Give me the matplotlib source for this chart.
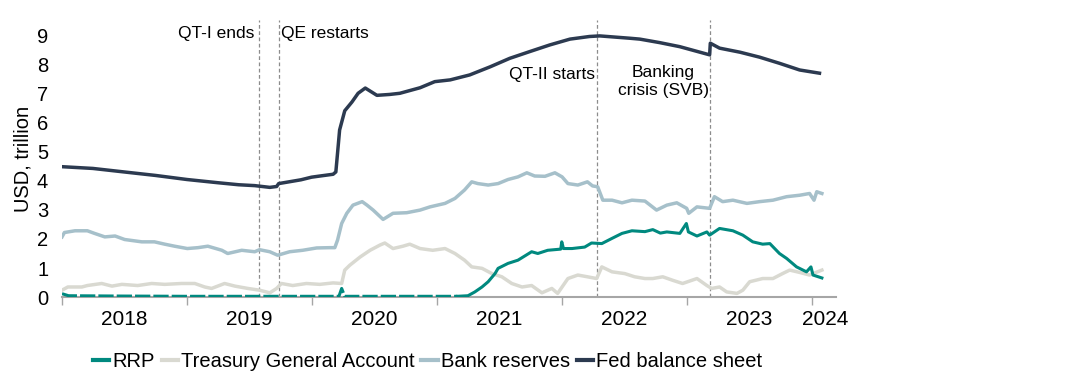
import numpy as np
import pandas as pd
import matplotlib
matplotlib.use('Agg')
import matplotlib.pyplot as plt
import matplotlib.dates as mdates

plt.rcParams['font.family'] = ['Liberation Sans', 'DejaVu Sans']

# USD trillion
fed_dates = ['2018-01-01', '2018-04-01', '2018-07-01', '2018-10-01', '2019-01-01', '2019-04-01',
             '2019-06-01', '2019-07-18', '2019-08-31', '2019-09-20', '2019-09-26', '2019-10-31',
             '2019-11-30', '2019-12-31', '2020-01-31', '2020-03-03', '2020-03-11', '2020-03-16',
             '2020-03-22', '2020-04-06', '2020-04-27', '2020-05-15', '2020-06-05', '2020-07-09',
             '2020-08-15', '2020-09-14', '2020-10-15', '2020-11-12', '2020-12-25', '2021-02-08',
             '2021-04-06', '2021-06-05', '2021-08-01', '2021-09-28', '2021-11-26', '2022-01-24',
             '2022-03-22', '2022-04-21', '2022-07-18', '2022-08-16', '2022-10-13', '2022-12-11',
             '2023-02-08', '2023-03-08', '2023-03-10', '2023-04-06', '2023-06-05', '2023-08-01',
             '2023-09-28', '2023-11-26', '2024-01-23']
fed_vals = [4.48, 4.42, 4.30, 4.18, 4.04, 3.93,
            3.86, 3.83, 3.77, 3.80, 3.90, 3.97,
            4.03, 4.12, 4.17, 4.22, 4.30, 4.95,
            5.74, 6.40, 6.70, 7.00, 7.18, 6.93,
            6.96, 7.00, 7.10, 7.19, 7.40, 7.46,
            7.63, 7.91, 8.20, 8.43, 8.66, 8.86,
            8.95, 8.97, 8.89, 8.86, 8.74, 8.60,
            8.41, 8.32, 8.72, 8.55, 8.41, 8.24,
            8.03, 7.80, 7.69]

res_dates = ['2018-01-01', '2018-01-08', '2018-02-08', '2018-03-16', '2018-04-06', '2018-05-06',
             '2018-06-05', '2018-07-03', '2018-08-22', '2018-09-28', '2018-10-28', '2018-11-26',
             '2019-01-02', '2019-02-02', '2019-03-03', '2019-04-13', '2019-04-30', '2019-06-10',
             '2019-07-18', '2019-08-01', '2019-08-31', '2019-09-23', '2019-10-28', '2019-12-05',
             '2020-01-15', '2020-02-22', '2020-03-08', '2020-03-16', '2020-03-28', '2020-04-12',
             '2020-04-30', '2020-05-27', '2020-06-10', '2020-06-28', '2020-07-27', '2020-08-25',
             '2020-10-04', '2020-11-12', '2020-12-11', '2021-01-24', '2021-02-22', '2021-03-22',
             '2021-04-12', '2021-04-30', '2021-05-30', '2021-06-28', '2021-07-27', '2021-08-25',
             '2021-09-20', '2021-10-13', '2021-11-12', '2021-12-11', '2022-01-01', '2022-01-18',
             '2022-02-16', '2022-03-16', '2022-03-31', '2022-04-15', '2022-04-30', '2022-05-27',
             '2022-06-25', '2022-07-24', '2022-08-31', '2022-10-04', '2022-11-03', '2022-12-02',
             '2022-12-31', '2023-01-06', '2023-01-30', '2023-03-08', '2023-03-22', '2023-04-15',
             '2023-05-15', '2023-06-25', '2023-08-01', '2023-09-09', '2023-10-19', '2023-11-26',
             '2023-12-25', '2024-01-07', '2024-01-15', '2024-01-30']
res_vals = [2.07, 2.22, 2.28, 2.28, 2.19, 2.07,
            2.10, 1.98, 1.90, 1.90, 1.82, 1.75,
            1.67, 1.70, 1.75, 1.61, 1.50, 1.61,
            1.56, 1.63, 1.56, 1.44, 1.56, 1.61,
            1.69, 1.70, 1.70, 1.96, 2.53, 2.88,
            3.16, 3.28, 3.16, 2.99, 2.67, 2.88,
            2.90, 2.99, 3.10, 3.22, 3.39, 3.68,
            3.96, 3.90, 3.85, 3.90, 4.04, 4.13,
            4.27, 4.16, 4.15, 4.27, 4.13, 3.90,
            3.85, 3.96, 3.82, 3.79, 3.33, 3.33,
            3.24, 3.33, 3.30, 2.99, 3.16, 3.24,
            3.05, 2.88, 3.10, 3.05, 3.45, 3.28,
            3.33, 3.22, 3.28, 3.33, 3.45, 3.50,
            3.56, 3.33, 3.62, 3.56]

tga_dates = ['2018-01-01', '2018-01-18', '2018-02-28', '2018-03-16', '2018-04-27', '2018-05-27',
             '2018-06-25', '2018-08-10', '2018-09-20', '2018-10-28', '2018-12-16', '2019-01-24',
             '2019-02-22', '2019-03-14', '2019-04-21', '2019-05-21', '2019-06-28', '2019-08-01',
             '2019-08-31', '2019-09-20', '2019-10-04', '2019-11-06', '2019-12-16', '2020-01-24',
             '2020-03-03', '2020-03-28', '2020-04-06', '2020-04-21', '2020-05-21', '2020-06-19',
             '2020-07-18', '2020-08-01', '2020-08-25', '2020-09-23', '2020-10-13', '2020-11-12',
             '2020-12-19', '2021-01-24', '2021-02-22', '2021-03-22', '2021-04-12', '2021-05-12',
             '2021-06-10', '2021-07-09', '2021-08-07', '2021-09-06', '2021-10-04', '2021-11-03',
             '2021-12-02', '2021-12-19', '2022-01-18', '2022-02-16', '2022-03-16', '2022-04-12',
             '2022-04-27', '2022-05-27', '2022-07-03', '2022-08-01', '2022-08-31', '2022-09-23',
             '2022-10-22', '2022-11-20', '2022-12-19', '2023-01-30', '2023-02-28', '2023-03-14',
             '2023-04-06', '2023-04-27', '2023-05-27', '2023-06-13', '2023-07-03', '2023-08-10',
             '2023-09-09', '2023-10-07', '2023-10-28', '2023-11-26', '2023-12-25', '2024-01-30']
tga_vals = [0.24, 0.35, 0.35, 0.40, 0.47, 0.38,
            0.44, 0.40, 0.47, 0.44, 0.47, 0.47,
            0.35, 0.30, 0.47, 0.38, 0.30, 0.24,
            0.15, 0.30, 0.47, 0.40, 0.47, 0.44,
            0.49, 0.47, 0.93, 1.10, 1.38, 1.61,
            1.79, 1.86, 1.67, 1.75, 1.82, 1.67,
            1.61, 1.67, 1.50, 1.27, 1.04, 0.99,
            0.81, 0.70, 0.47, 0.35, 0.40, 0.15,
            0.30, 0.13, 0.64, 0.76, 0.70, 0.64,
            1.04, 0.87, 0.81, 0.70, 0.64, 0.64,
            0.70, 0.58, 0.47, 0.64, 0.40, 0.30,
            0.35, 0.18, 0.13, 0.24, 0.53, 0.64,
            0.64, 0.81, 0.93, 0.85, 0.76, 0.93]

rrp_dates = ['2018-01-01', '2018-01-20', '2018-06-01', '2019-01-01', '2019-06-01', '2020-01-01',
             '2020-03-20', '2020-03-28', '2020-04-06', '2020-09-01', '2021-03-01', '2021-04-01',
             '2021-04-21', '2021-05-12', '2021-05-30', '2021-06-19', '2021-06-28', '2021-07-27',
             '2021-08-25', '2021-10-04', '2021-10-22', '2021-11-20', '2021-12-28', '2021-12-31',
             '2022-01-05', '2022-01-30', '2022-03-08', '2022-03-28', '2022-04-27', '2022-05-27',
             '2022-06-25', '2022-07-24', '2022-08-31', '2022-09-23', '2022-10-15', '2022-11-03',
             '2022-12-11', '2022-12-30', '2023-01-05', '2023-01-30', '2023-02-28', '2023-03-08',
             '2023-04-06', '2023-05-15', '2023-06-13', '2023-07-12', '2023-08-10', '2023-08-31',
             '2023-09-28', '2023-10-19', '2023-11-17', '2023-12-16', '2023-12-29', '2024-01-04',
             '2024-01-30']
rrp_vals = [0.12, 0.05, 0.04, 0.03, 0.03, 0.03,
            0.03, 0.30, 0.03, 0.03, 0.03, 0.05,
            0.18, 0.35, 0.53, 0.81, 0.99, 1.16,
            1.27, 1.56, 1.50, 1.61, 1.65, 1.90,
            1.67, 1.67, 1.72, 1.86, 1.84, 2.02,
            2.19, 2.28, 2.25, 2.32, 2.20, 2.24,
            2.19, 2.53, 2.24, 2.10, 2.24, 2.13,
            2.36, 2.28, 2.13, 1.90, 1.82, 1.84,
            1.50, 1.33, 1.04, 0.87, 1.04, 0.76,
            0.66]

event_dates = ['2019-07-30', '2019-09-26', '2022-04-14', '2023-03-09']

c_rrp = '#00897F'
c_tga = '#D9D9D1'
c_res = '#A6C0CA'
c_fed = '#2C3A50'


def series(dates, vals):
    return pd.Series(vals, index=pd.to_datetime(dates))


def main():
    fed = series(fed_dates, fed_vals)
    res = series(res_dates, res_vals)
    tga = series(tga_dates, tga_vals)
    rrp = series(rrp_dates, rrp_vals)
    ev = pd.to_datetime(event_dates)

    fig = plt.figure(figsize=(10.88, 3.9), dpi=100)
    ax = fig.add_axes([0.057, 0.238, 0.711, 0.711])

    for d in ev:
        ax.axvline(d, color='#8C8C8C', lw=0.9, ls=(0, (3, 2)), zorder=1)

    # RRP sits on zero until 2021, drawn broken like in the source
    early = rrp[:'2021-03-01']
    late = rrp['2021-03-01':]
    ax.plot(early.index, early.values, color=c_rrp, lw=2.2, ls=(0, (5, 1)), zorder=3)
    ax.plot(late.index, late.values, color=c_rrp, lw=2.2, zorder=3)
    ax.plot(tga.index, tga.values, color=c_tga, lw=2.5, zorder=2)
    ax.plot(res.index, res.values, color=c_res, lw=2.5, zorder=2)
    ax.plot(fed.index, fed.values, color=c_fed, lw=2.5, zorder=4)

    ax.set_ylim(0, 9.52)
    ax.set_yticks(range(0, 10))
    ax.set_xlim(pd.Timestamp('2018-01-01'), pd.Timestamp('2024-03-10'))

    ax.xaxis.set_major_locator(mdates.YearLocator())
    ax.xaxis.set_major_formatter(plt.NullFormatter())
    mids = [pd.Timestamp(f'{y}-07-02') for y in range(2018, 2024)] + [pd.Timestamp('2024-02-10')]
    ax.set_xticks(mids, minor=True)
    ax.set_xticklabels([str(d.year) for d in mids], minor=True)

    ax.tick_params(axis='x', which='major', length=6, width=1, color='#A6A6A6', direction='out')
    ax.tick_params(axis='x', which='minor', length=0, labelsize=15, pad=9)
    ax.tick_params(axis='y', length=0, labelsize=14.5, pad=10)

    for s in ['left', 'top', 'right']:
        ax.spines[s].set_visible(False)
    ax.spines['bottom'].set_color('#A6A6A6')
    ax.spines['bottom'].set_linewidth(1.5)

    ax.set_ylabel('USD, trillion', fontsize=14.5, labelpad=3)

    ax.annotate('QT-I ends', (ev[0], 9.04), xytext=(-3, 0), textcoords='offset points',
                ha='right', va='center', fontsize=12.5)
    ax.annotate('QE restarts', (ev[1], 9.04), xytext=(2, 0), textcoords='offset points',
                ha='left', va='center', fontsize=12.5)
    ax.annotate('QT-II starts', (ev[2], 7.63), xytext=(-2, 0), textcoords='offset points',
                ha='right', va='center', fontsize=12.5)
    ax.annotate('Banking\ncrisis (SVB)', (ev[3], 7.42), xytext=(-1, 0), textcoords='offset points',
                ha='right', va='center', multialignment='center', fontsize=12.5, linespacing=1.25)

    handles = [plt.Line2D([], [], color=c, lw=3) for c in [c_rrp, c_tga, c_res, c_fed]]
    labels = ['RRP', 'Treasury General Account', 'Bank reserves', 'Fed balance sheet']
    fig.legend(handles, labels, loc='center', bbox_to_anchor=(0.393, 0.072), ncol=4,
               frameon=False, fontsize=14.5, handlelength=0.8, handletextpad=0.15,
               columnspacing=0.35, borderpad=0)

    fig.savefig('out.png', dpi=100)


if __name__ == "__main__":
    main()
